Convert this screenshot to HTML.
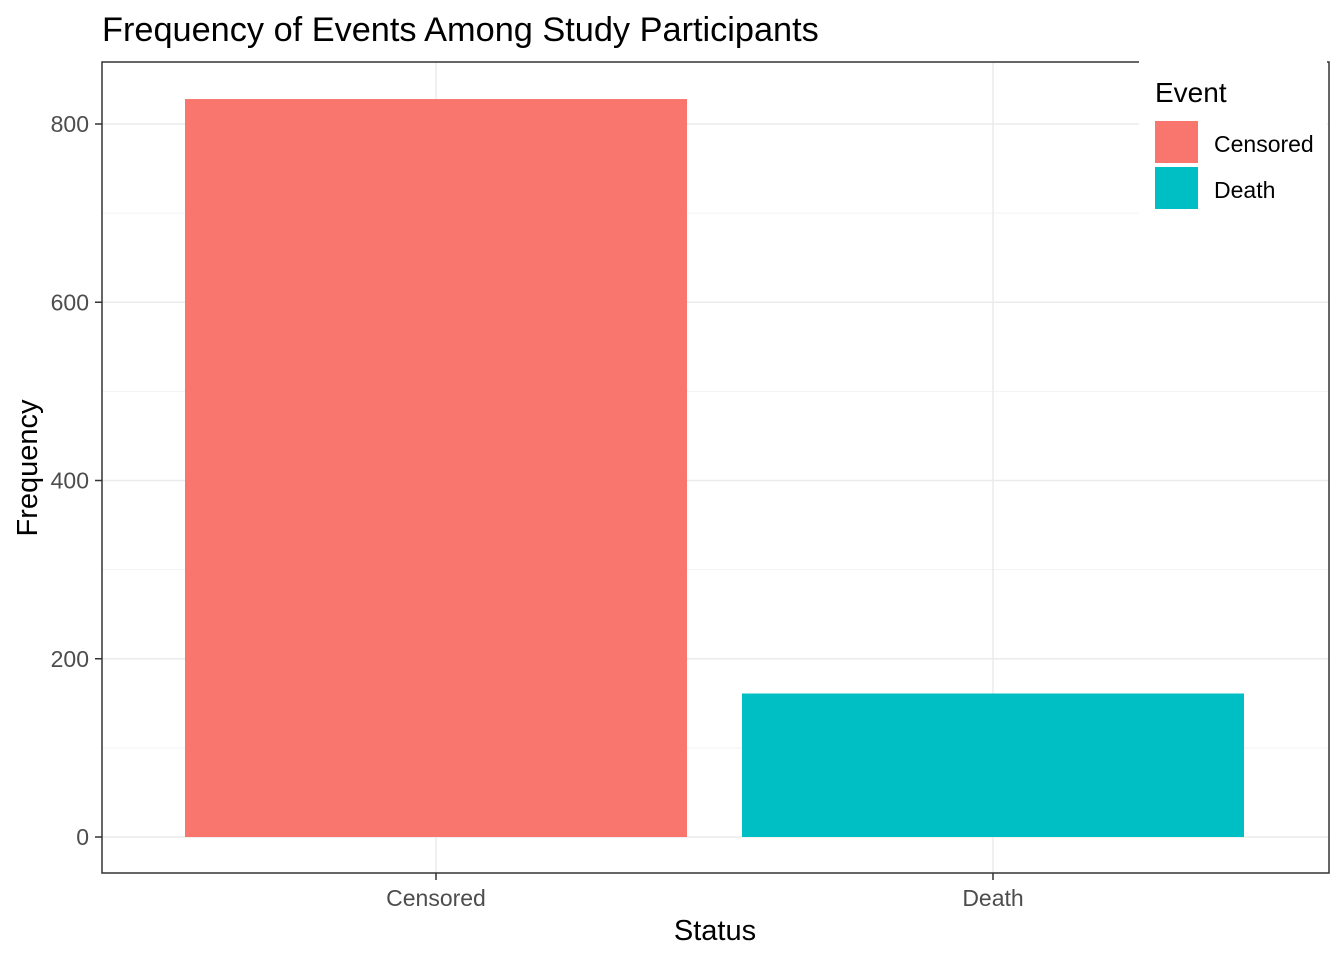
<!DOCTYPE html>
<html><head><meta charset="utf-8"><style>
body{margin:0;background:#fff;font-family:"Liberation Sans",sans-serif}
</style></head><body>
<svg width="1344" height="960" xmlns="http://www.w3.org/2000/svg" id="chart" font-family="Liberation Sans, sans-serif">
<text x="102" y="41" font-size="34.3" fill="#000">Frequency of Events Among Study Participants</text>
<g id="grid"></g>
<g id="bars"></g>
<rect x="102" y="62" width="1227" height="811" fill="none" stroke="#333" stroke-width="1.5"/>
<g id="axes"></g>
<text x="715" y="940" font-size="29" text-anchor="middle">Status</text>
<text transform="translate(37,468) rotate(-90)" font-size="29" text-anchor="middle">Frequency</text>
<g>
<rect x="1139" y="60" width="188" height="166" fill="#fff"/>
<text x="1155" y="102" font-size="28">Event</text>
<g><rect x="1155" y="121" width="43" height="42" fill="#F8766D"/><text x="1214" y="152" font-size="23">Censored</text></g>
<g><rect x="1155" y="167" width="43" height="42" fill="#00BFC4"/><text x="1214" y="198" font-size="23">Death</text></g>
</g>
</svg>
<script>
const categories=["Censored","Death"];
const values=[828,161];
const colors=["#F8766D","#00BFC4"];
const yTicks=[0,200,400,600,800];
const ns="http://www.w3.org/2000/svg";
const y=v=>837-v*(837-124)/800;
const xc=i=>436+i*(993-436);
const bw=502;
function mk(t,a,p){const e=document.createElementNS(ns,t);for(const k in a)e.setAttribute(k,a[k]);p.appendChild(e);return e;}
const grid=document.getElementById('grid'),bars=document.getElementById('bars'),axes=document.getElementById('axes');
for(let i=0;i<yTicks.length;i++){
  const v=yTicks[i];
  const g=mk('line',{x1:102,x2:1329,y1:y(v),y2:y(v),stroke:'#ebebeb','stroke-width':1.5},grid);
  
  
  if(i<yTicks.length-1){const m=(v+yTicks[i+1])/2;
    const g2=mk('line',{x1:102,x2:1329,y1:y(m),y2:y(m),stroke:'#f2f2f2','stroke-width':1},grid);
    
    }
  const t=mk('line',{x1:95,x2:102,y1:y(v),y2:y(v),stroke:'#333','stroke-width':1.5},axes);
  
  
  const l=mk('text',{x:89,y:y(v)+8,'font-size':23,fill:'#4d4d4d','text-anchor':'end'},axes);
  l.textContent=v;
  
  
}
categories.forEach((c,i)=>{
  const g=mk('line',{x1:xc(i),x2:xc(i),y1:62,y2:873,stroke:'#ebebeb','stroke-width':1.5},grid);
  
  
  const b=mk('rect',{x:xc(i)-bw/2,y:y(values[i]),width:bw,height:837-y(values[i]),fill:colors[i]},bars);
  
  
  const t=mk('line',{x1:xc(i),x2:xc(i),y1:873,y2:880,stroke:'#333','stroke-width':1.5},axes);
  
  
  const l=mk('text',{x:xc(i),y:906,'font-size':23,fill:'#4d4d4d','text-anchor':'middle'},axes);
  l.textContent=c;
  
  
});
</script>
</body></html>
